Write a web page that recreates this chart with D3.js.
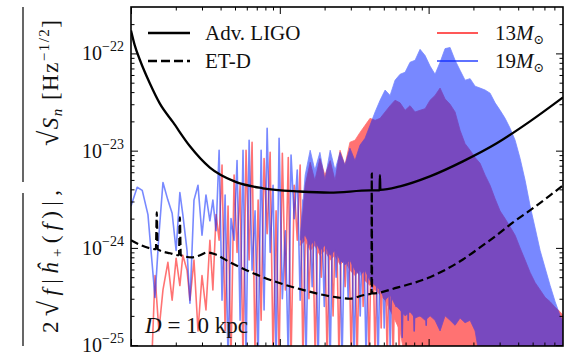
<!DOCTYPE html>
<html>
<head>
<meta charset="utf-8">
<script src="https://cdn.jsdelivr.net/npm/d3@7/dist/d3.min.js"></script>
<style>
  body { margin: 0; background: #fff; }
  svg text { font-family: "Liberation Serif", "DejaVu Serif", serif; fill: #111; }
</style>
</head>
<body>
<svg id="chart" width="566" height="355"></svg>
<script>
// amplitudes in units of 1e-24 Hz^-1/2, frequencies in Hz

// detector noise curves
var ligoFreq = [10, 10.6, 11.5, 13.4, 15.6, 19.2, 24.9, 33.9, 50, 77, 136, 217, 404, 468, 471, 474, 643, 1020, 1700, 2870, 4800, 8000];
var ligoAsd = [172, 121, 85, 49, 30.6, 19.5, 11.1, 6.7, 4.8, 4.1, 3.8, 3.7, 3.9, 3.9, 5.6, 3.95, 4.3, 5.44, 7.76, 11.9, 20, 35.3];

var etdFreq = [10, 13.4, 14.7, 14.9, 15.1, 18.3, 21.0, 21.3, 21.6, 25.7, 29.1, 32.4, 36.7, 46.3, 77, 130, 242, 296, 363, 413, 415, 417, 613, 1020, 1700, 2215, 2870, 3690, 4800, 6550, 8000];
var etdAsd = [1.2, 0.99, 0.97, 2.32, 0.97, 0.88, 0.84, 2.06, 0.84, 0.8, 0.84, 0.9, 0.86, 0.71, 0.5, 0.385, 0.31, 0.3, 0.326, 0.34, 5.8, 0.34, 0.39, 0.5, 0.76, 1.01, 1.35, 1.83, 2.43, 3.47, 4.4];

// waveform spectra, sparse part (drawn as a line)
var lineFreq = [10.0, 11.0, 11.9, 13.0, 13.8, 14.5, 15.4, 16.4, 17.7, 18.9, 20.1, 21.3, 22.3, 23.8, 24.9, 26.5, 28.2, 30.0, 31.9, 33.9, 35.5, 37.3,
  39.1, 40.9, 42.9, 44.9, 47.0, 49.3, 51.6, 54.1, 56.6, 59.3, 62.2, 65.1, 68.2, 71.5, 74.9, 78.4, 82.2, 86.1, 90.1, 94.4, 98.9, 104, 109, 114, 119, 125, 131, 137,
  143, 150, 157, 165, 173, 181, 190, 199, 208, 218, 228, 239, 250, 262, 275, 288, 302, 316, 331, 347, 363, 380, 398, 417, 437, 458,
  480, 503, 527, 552, 578, 605, 634, 664, 696, 729, 763, 800, 838, 877, 919, 963, 1009];
var blue19Line = [2.7, 4.2, 3.9, 2.2, 0.75, 0.31, 1.35, 4.7, 3.1, 2.27, 0.94, 3.7, 2.2, 0.94, 0.27, 3.1, 4.4, 1.35, 3.5, 1.9, 3.1, 1.5,
  10.1, 0.29, 3.5, 0.07, 2.0, 1.2, 7.9, 0.18, 10.1, 0.07, 12.8, 0.59, 2.4, 0.07, 10.1, 0.23, 17, 0.9, 4.4, 0.07, 13.4, 0.3, 1.5, 0.07, 9.0, 2.0, 6.3, 0.29,
  3.1, 0.07, 3.1, 0.4, 3.1, 0.07, 3.1, 0.25, 3.1, 0.07, 3.1, 0.5, 3.1, 0.07, 3.1, 0.3, 3.1, 0.07, 3.1, 0.2, 3.1, 0.07, 3.1, 0.35, 3.1, 0.07,
  3.1, 0.15, 3.1, 0.09, 3.1, 0.25, 3.1, 0.12, 3.1, 0.18, 3.1, 0.14, 3.1, 0.2, 3.1, 0.16, 3.1];
var red13Line = [0.05, 0.06, 0.05, 0.07, 0.07, 0.52, 0.14, 0.37, 0.71, 0.29, 0.78, 0.41, 0.84, 0.59, 0.29, 0.75, 0.14, 0.52, 0.23, 1.2, 0.37, 2.2,
  1.2, 7.1, 0.14, 2.7, 0.07, 5.6, 0.9, 4.4, 0.07, 10.1, 0.75, 12.2, 0.07, 3.1, 0.18, 8.3, 1.4, 9.6, 0.07, 2.4, 0.07, 9.4, 0.37, 8.5, 0.07, 4.4, 1.2, 7.1,
  0.07, 3.1, 0.3, 3.1, 0.07, 3.1, 0.5, 3.1, 0.07, 3.1, 0.2, 3.1, 0.07, 3.1, 0.4, 3.1, 0.07, 3.1, 0.07, 3.1, 0.25, 3.1, 0.07, 3.1, 0.07, 3.1,
  0.15, 3.1, 0.07, 3.1, 0.07, 3.1, 0.07, 3.1, 0.07, 3.1, 0.07, 3.1, 0.07, 3.1, 0.07, 3.1, 0.07];

// waveform spectra, dense part (upper / lower edge of the filled band)
var bandFreq = [137, 148, 160, 172, 186, 201, 218, 235, 254, 274, 296, 320, 346, 374, 404, 437, 472, 510, 551, 595,
  643, 695, 750, 811, 876, 947, 1023, 1105, 1194, 1290, 1394, 1506, 1627, 1758, 1900, 2053, 2218, 2396, 2589, 2798,
  3023, 3266, 3529, 3813, 4120, 4452, 4810, 5197, 5616, 6068, 6556, 7084, 7654, 8270];
var blue19Top = [1.3, 5.6, 10.1, 6.3, 9.6, 5.0, 10.1, 6.3, 9.6, 7.1, 10.6, 7.9, 11.4, 13.4, 18.2, 25, 33, 42, 37, 53,
  61, 64, 81, 85, 110, 95, 74, 61, 81, 112, 115, 85, 67, 53, 55, 46, 44, 42, 39, 31,
  26, 21.5, 17, 12.8, 8.3, 4.95, 2.7, 1.6, 0.94, 0.62, 0.41, 0.28, 0.2, 0.16];
var blue19Bottom = [1.2, 1.35, 1.06, 1.2, 0.94, 1.06, 0.84, 0.94, 0.75, 0.67, 0.75, 0.59, 0.52, 0.59, 0.46, 0.41, 0.37, 0.29, 0.33, 0.26,
  0.23, 0.2, 0.22, 0.19, 0.2, 0.18, 0.2, 0.18, 0.14, 0.2, 0.18, 0.16, 0.19, 0.17, 0.18, 0.14, 0.07, 0.07, 0.07, 0.07,
  0.07, 0.07, 0.07, 0.07, 0.07, 0.07, 0.07, 0.07, 0.07, 0.07, 0.07, 0.07, 0.07, 0.07];
var red13Top = [1.1, 4.4, 7.6, 4.95, 8.3, 5.6, 7.9, 4.95, 10.1, 7.1, 12.2, 12.8, 15.4, 18.2, 21.5, 20.5, 21.5, 25, 29, 33,
  31, 26, 29, 25, 26, 27, 33, 37, 44, 34, 30, 25, 16.2, 11.8, 10.1, 8.5, 7.4, 5.6, 4.4, 3.2,
  2.4, 2.0, 1.65, 1.35, 1.0, 0.75, 0.56, 0.44, 0.37, 0.31, 0.28, 0.245, 0.22, 0.19];
var red13Bottom = [1.06, 1.2, 0.94, 1.06, 0.84, 0.94, 0.75, 0.84, 0.67, 0.75, 0.59, 0.52, 0.59, 0.46, 0.41, 0.37, 0.33, 0.29, 0.23, 0.18,
  0.14, 0.07, 0.07, 0.07, 0.07, 0.07, 0.07, 0.07, 0.07, 0.07, 0.07, 0.07, 0.07, 0.07, 0.07, 0.07, 0.07, 0.07, 0.07, 0.07,
  0.07, 0.07, 0.07, 0.07, 0.07, 0.07, 0.07, 0.07, 0.07, 0.07, 0.07, 0.07, 0.07, 0.07];

// ticks
var xMajor = [10, 100, 1000];
var xMinor = [20, 30, 40, 50, 60, 70, 80, 90, 200, 300, 400, 500, 600, 700, 800, 900, 2000, 3000, 4000, 5000, 6000, 7000];
var yMajor = [0.1, 1, 10, 100];
var yMajorExp = ["\u221225", "\u221224", "\u221223", "\u221222"];
var yMinor = [0.2, 0.3, 0.4, 0.5, 0.6, 0.7, 0.8, 0.9, 2, 3, 4, 5, 6, 7, 8, 9, 20, 30, 40, 50, 60, 70, 80, 90, 200];

var svgWidth = 566;
var svgHeight = 355;
var margin = { top: 7, right: 3, bottom: 9, left: 131 };
var width = svgWidth - margin.left - margin.right;
var height = svgHeight - margin.top - margin.bottom;

var svg = d3.select("#chart");
var chartGroup = svg.append("g")
  .attr("transform", `translate(${margin.left}, ${margin.top})`);

var xScale = d3.scaleLog().domain([10, 8000]).range([0, width]);
var yScale = d3.scaleLog().domain([0.098, 300]).range([height, 0]);

chartGroup.append("clipPath").attr("id", "clip")
  .append("rect").attr("width", width).attr("height", height);

var redColor = "#ff0000";
var blueColor = "#0a28ff";

// one spectrum: line for the sparse part + band for the dense part, one translucent group
function drawSpectrum(lineVals, topVals, bottomVals, color) {
  var g = chartGroup.append("g")
    .attr("clip-path", "url(#clip)")
    .attr("opacity", 0.55);
  var pts = lineFreq.map((f, i) => [f, lineVals[i]]);
  g.append("path")
    .datum(pts)
    .attr("fill", "none")
    .attr("stroke", color)
    .attr("stroke-width", 1.6)
    .attr("stroke-linejoin", "round")
    .attr("d", d3.line().x(d => xScale(d[0])).y(d => yScale(d[1])));
  var band = bandFreq.map((f, i) => ({ f: f, hi: topVals[i], lo: bottomVals[i] }));
  g.append("path")
    .datum(band)
    .attr("fill", color)
    .attr("stroke", color)
    .attr("stroke-width", 0.8)
    .attr("d", d3.area().x(d => xScale(d.f)).y0(d => yScale(d.lo)).y1(d => yScale(d.hi)));
}
drawSpectrum(red13Line, red13Top, red13Bottom, redColor);
drawSpectrum(blue19Line, blue19Top, blue19Bottom, blueColor);

// noise curves
var noiseLine = d3.line()
  .x(d => xScale(d[0]))
  .y(d => yScale(d[1]))
  .curve(d3.curveMonotoneX);
var curves = chartGroup.append("g").attr("clip-path", "url(#clip)");
curves.append("path")
  .datum(etdFreq.map((f, i) => [f, etdAsd[i]]))
  .attr("fill", "none")
  .attr("stroke", "#000")
  .attr("stroke-width", 2.2)
  .attr("stroke-dasharray", "8,4")
  .attr("d", noiseLine);
curves.append("path")
  .datum(ligoFreq.map((f, i) => [f, ligoAsd[i]]))
  .attr("fill", "none")
  .attr("stroke", "#000")
  .attr("stroke-width", 2.3)
  .attr("d", noiseLine);

// ticks on all four sides, pointing in
function addTicks(axis, vals, size, transform) {
  var g = chartGroup.append("g")
    .attr("transform", transform)
    .call(axis.tickValues(vals).tickSize(size).tickFormat(""));
  g.select(".domain").remove();
  g.selectAll("line").attr("stroke", "#000").attr("stroke-width", 1);
}
addTicks(d3.axisBottom(xScale), xMajor, -7, `translate(0, ${height})`);
addTicks(d3.axisBottom(xScale), xMinor, -3.5, `translate(0, ${height})`);
addTicks(d3.axisTop(xScale), xMajor, -7, "translate(0, 0)");
addTicks(d3.axisTop(xScale), xMinor, -3.5, "translate(0, 0)");
addTicks(d3.axisLeft(yScale), yMajor, -7, "translate(0, 0)");
addTicks(d3.axisLeft(yScale), yMinor, -3.5, "translate(0, 0)");
addTicks(d3.axisRight(yScale), yMajor, -7, `translate(${width}, 0)`);
addTicks(d3.axisRight(yScale), yMinor, -3.5, `translate(${width}, 0)`);

chartGroup.append("rect")
  .attr("width", width)
  .attr("height", height)
  .attr("fill", "none")
  .attr("stroke", "#000")
  .attr("stroke-width", 1.6);

// y tick labels 10^n
yMajor.forEach(function (v, i) {
  var t = svg.append("text")
    .attr("x", margin.left - 7)
    .attr("y", margin.top + yScale(v) + 7)
    .attr("text-anchor", "end")
    .attr("font-size", 20);
  t.append("tspan").text("10");
  t.append("tspan").attr("dy", -9).attr("font-size", 14).text(yMajorExp[i]);
});

// y axis label (two pieces, rotated)
var lab1 = svg.append("text")
  .attr("transform", "translate(58, 333) rotate(-90)")
  .attr("font-size", 23)
  .attr("textLength", 143)
  .attr("lengthAdjust", "spacing");
lab1.append("tspan").text("2");
lab1.append("tspan").attr("font-size", 28).text("\u221A");
lab1.append("tspan").attr("font-style", "italic").text("f");
lab1.append("tspan").text("|");
lab1.append("tspan").attr("font-style", "italic").text("\u0125");
lab1.append("tspan").attr("font-size", 15).attr("dy", 4).text("+");
lab1.append("tspan").attr("dy", -4).text("(");
lab1.append("tspan").attr("font-style", "italic").text("f");
lab1.append("tspan").text(")|,");

var lab2 = svg.append("text")
  .attr("transform", "translate(58, 146) rotate(-90)")
  .attr("font-size", 23)
  .attr("textLength", 126)
  .attr("lengthAdjust", "spacing");
lab2.append("tspan").attr("font-size", 28).text("\u221A");
lab2.append("tspan").attr("font-style", "italic").text("S");
lab2.append("tspan").attr("font-style", "italic").attr("font-size", 15).attr("dy", 4).text("n");
lab2.append("tspan").attr("dy", -4).text(" [Hz");
lab2.append("tspan").attr("font-size", 15).attr("dy", -9).text("\u22121/2");
lab2.append("tspan").attr("dy", 9).text("]");

// radical bars
svg.append("line").attr("x1", 23).attr("x2", 23).attr("y1", 7).attr("y2", 182)
  .attr("stroke", "#000").attr("stroke-width", 1.2);
svg.append("line").attr("x1", 23).attr("x2", 23).attr("y1", 193).attr("y2", 346)
  .attr("stroke", "#000").attr("stroke-width", 1.2);

// legend
var legend = svg.append("g");
legend.append("line").attr("x1", 148).attr("x2", 190).attr("y1", 33).attr("y2", 33)
  .attr("stroke", "#000").attr("stroke-width", 2.3);
legend.append("line").attr("x1", 148).attr("x2", 190).attr("y1", 61).attr("y2", 61)
  .attr("stroke", "#000").attr("stroke-width", 2.3).attr("stroke-dasharray", "9,4");
legend.append("text").attr("x", 205).attr("y", 40).attr("font-size", 21).text("Adv. LIGO");
legend.append("text").attr("x", 205).attr("y", 68).attr("font-size", 21).text("ET-D");

legend.append("line").attr("x1", 437).attr("x2", 478).attr("y1", 33).attr("y2", 33)
  .attr("stroke", redColor).attr("stroke-width", 2.2).attr("opacity", 0.65);
legend.append("line").attr("x1", 437).attr("x2", 478).attr("y1", 61).attr("y2", 61)
  .attr("stroke", blueColor).attr("stroke-width", 2.2).attr("opacity", 0.65);
[["13", 40], ["19", 68]].forEach(function (d) {
  var t = legend.append("text").attr("x", 495).attr("y", d[1]).attr("font-size", 21);
  t.append("tspan").text(d[0]);
  t.append("tspan").attr("font-style", "italic").text("M");
  t.append("tspan").attr("font-size", 13).attr("dy", 4).text("\u2299");
});

// distance annotation
var dText = svg.append("text").attr("x", 145).attr("y", 333).attr("font-size", 23);
dText.append("tspan").attr("font-style", "italic").text("D");
dText.append("tspan").text(" = 10 kpc");
</script>
</body>
</html>
